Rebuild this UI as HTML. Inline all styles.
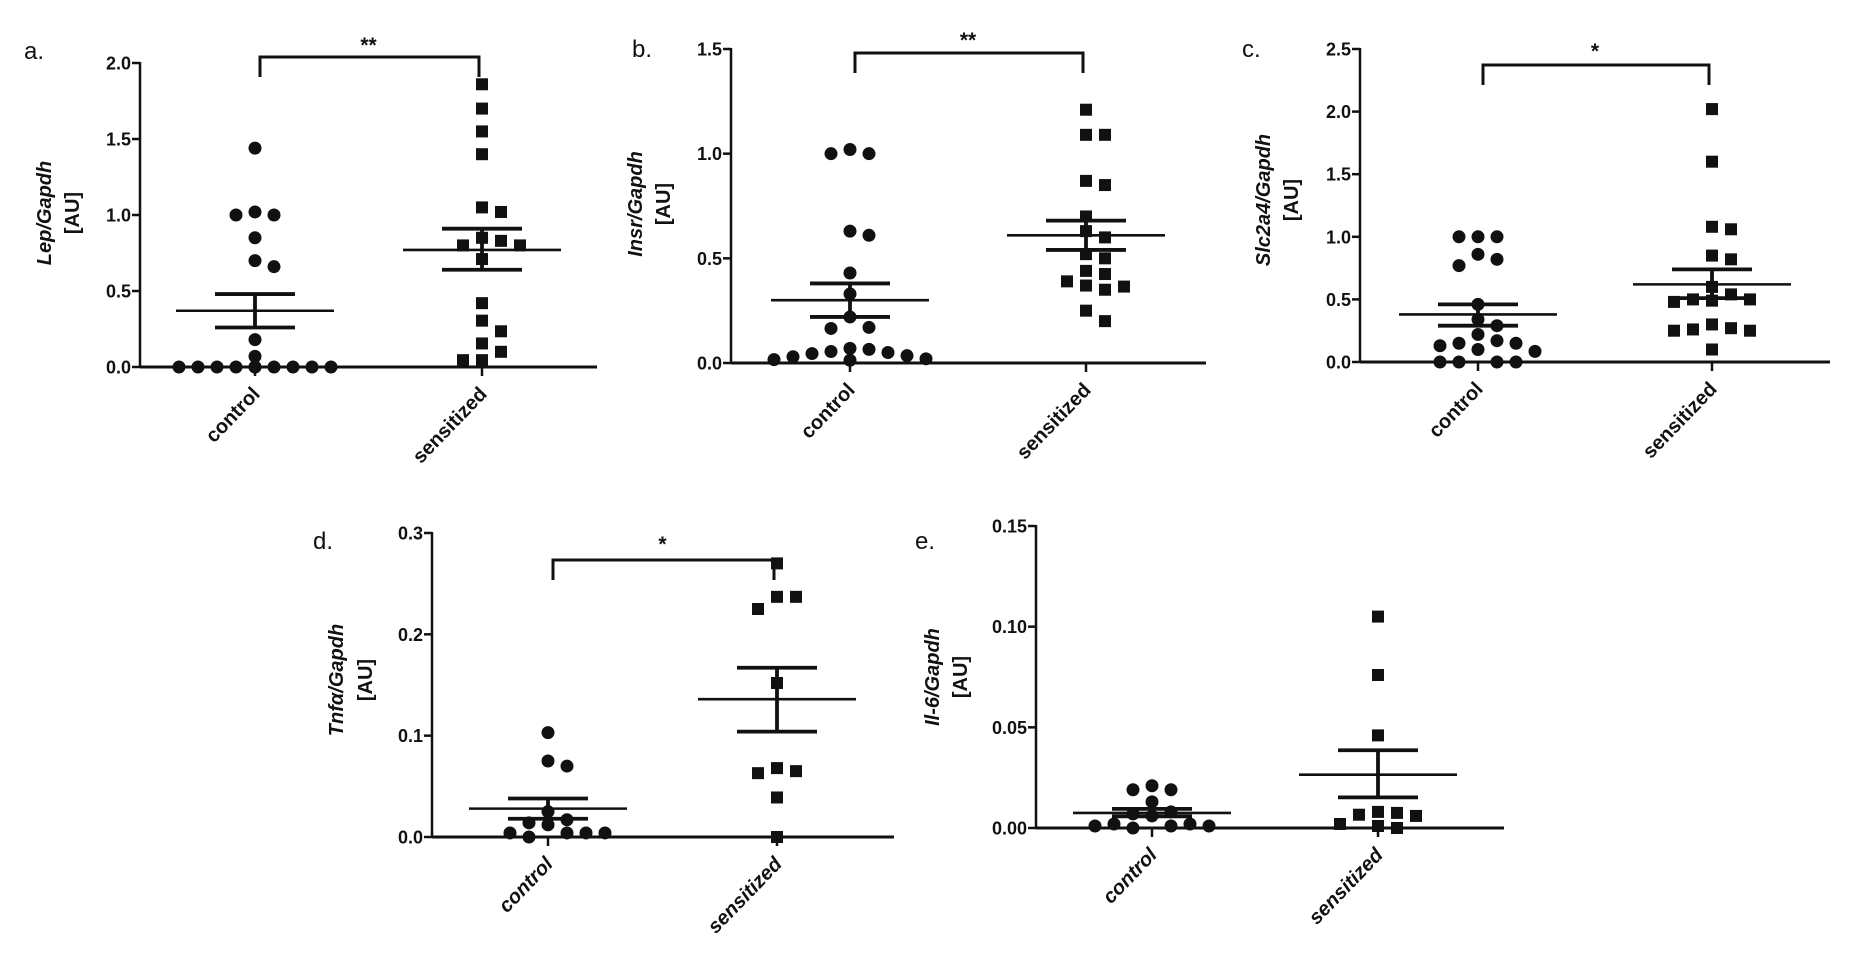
<!DOCTYPE html>
<html><head><meta charset="utf-8"><style>
html,body{margin:0;padding:0;background:#fff;}
svg{display:block;}
text{font-family:"Liberation Sans",Arial,sans-serif;font-weight:bold;fill:#111;}
</style></head><body>
<svg id="fig" width="1866" height="974" viewBox="0 0 1866 974" xmlns="http://www.w3.org/2000/svg"></svg>
<script>
// ---- data ----
const categories = ["control", "sensitized"];
const aControl = [1.44,1.02,1.0,1.0,0.85,0.70,0.66,0.18,0.07,0,0,0,0,0,0,0,0,0,0];
const aSens = [1.86,1.70,1.55,1.40,1.05,1.02,0.85,0.83,0.80,0.80,0.71,0.42,0.305,0.235,0.155,0.10,0.045,0.045];
const aStats = [[0.37,0.48,0.26],[0.77,0.91,0.64]];
const bControl = [1.02,1.0,1.0,0.63,0.61,0.43,0.33,0.22,0.17,0.165,0.07,0.065,0.055,0.05,0.045,0.035,0.03,0.02,0.016,0.013];
const bSens = [1.21,1.09,1.09,0.87,0.85,0.70,0.63,0.60,0.52,0.50,0.44,0.425,0.39,0.37,0.365,0.35,0.25,0.20];
const bStats = [[0.30,0.38,0.22],[0.61,0.68,0.54]];
const cControl = [1.0,1.0,1.0,0.86,0.82,0.77,0.46,0.34,0.29,0.22,0.17,0.15,0.15,0.13,0.10,0.085,0,0,0,0];
const cSens = [2.02,1.60,1.08,1.06,0.85,0.82,0.60,0.54,0.50,0.50,0.49,0.48,0.30,0.27,0.26,0.25,0.25,0.10];
const cStats = [[0.38,0.46,0.29],[0.62,0.74,0.51]];
const dControl = [0.103,0.075,0.070,0.025,0.017,0.014,0.012,0.004,0.004,0.004,0.004,0.0];
const dSens = [0.27,0.237,0.237,0.225,0.152,0.068,0.065,0.063,0.039,0.0];
const dStats = [[0.028,0.038,0.018],[0.136,0.167,0.104]];
const eControl = [0.021,0.019,0.019,0.013,0.008,0.007,0.006,0.002,0.002,0.001,0.001,0.001,0.0];
const eSens = [0.105,0.076,0.046,0.008,0.0075,0.0066,0.006,0.002,0.001,0.0];
const eStats = [[0.0075,0.0095,0.0058],[0.0265,0.0386,0.0152]];
const aTicks = ["0.0","0.5","1.0","1.5","2.0"];
const bTicks = ["0.0","0.5","1.0","1.5"];
const cTicks = ["0.0","0.5","1.0","1.5","2.0","2.5"];
const dTicks = ["0.0","0.1","0.2","0.3"];
const eTicks = ["0.00","0.05","0.10","0.15"];

const NS="http://www.w3.org/2000/svg";
const svg=document.getElementById('fig');
function mk(tag,attrs,parent){const e=document.createElementNS(NS,tag);for(const k in attrs)e.setAttribute(k,attrs[k]);(parent||svg).appendChild(e);return e;}

function panel(o){
  const g=mk('g',{});
  
  
  const y=v=>o.y0+(o.y1-o.y0)*(v-o.vmin)/(o.vmax-o.vmin);
  const ya=mk('line',{x1:o.ax,y1:o.y1-1,x2:o.ax,y2:o.y0,stroke:'#111','stroke-width':2.5},g);
  
  
  const xa=mk('line',{x1:o.ax,y1:o.y0,x2:o.axEnd,y2:o.y0,stroke:'#111','stroke-width':3},g);
  
  
  o.ticks.forEach(t=>{
    const v=parseFloat(t),yy=y(v);
    mk('line',{x1:o.ax-8,y1:yy,x2:o.ax,y2:yy,stroke:'#111','stroke-width':2.5},g);
    const tx=mk('text',{x:o.ax-9,y:yy+6.5,'text-anchor':'end','font-size':18},g);
    tx.textContent=t;
    
    
  });
  const yt=mk('text',{transform:`translate(${o.ytx},${o.yty}) rotate(-90)`,'text-anchor':'middle','font-size':20},g);
  
  
  const it=mk('tspan',{'font-style':'italic'},yt);it.textContent=o.gene+'/Gapdh';
  const au=mk('text',{transform:`translate(${o.aux},${o.yty}) rotate(-90)`,'text-anchor':'middle','font-size':20},g);
  au.textContent='[AU]';
  
  
  const pl=mk('text',{x:o.lx,y:o.ly,'font-size':24,style:'font-weight:normal'},g);
  pl.textContent=o.id+'.';
  
  
  const series=[o.ctrl,o.sens],cx=[o.cx0,o.cx1];
  series.forEach((vals,gi)=>{
    const x=cx[gi];
    mk('line',{x1:x,y1:o.y0,x2:x,y2:o.y0+9,stroke:'#111','stroke-width':2.5},g);
    const lbl=mk('text',{transform:`translate(${x+6},${o.y0+28}) rotate(-46)`,'text-anchor':'end','font-size':20,'font-style':o.italCat?'italic':'normal'},g);
    lbl.textContent=categories[gi];
    
    
    const placed=[];
    vals.forEach(v=>{
      const yy=y(v);let off=0;
      const steps=[0,19,-19,38,-38,57,-57,76,-76];
      for(const s of steps){if(!placed.some(p=>Math.hypot(p[0]-(x+s),p[1]-yy)<13)){off=s;break;}}
      placed.push([x+off,yy]);
      let m;
      if(gi===0){m=mk('circle',{cx:x+off,cy:yy,r:6.5,fill:'#111'},g);}
      else{m=mk('rect',{x:x+off-6,y:yy-6,width:12,height:12,fill:'#111'},g);}
      
      
    });
    const st=o.stats[gi];
    const ml=mk('line',{x1:x-79,y1:y(st[0]),x2:x+79,y2:y(st[0]),stroke:'#111','stroke-width':2.6},g);
    
    
    const eb=mk('path',{d:`M${x-40},${y(st[1])}H${x+40}M${x},${y(st[1])}V${y(st[2])}M${x-40},${y(st[2])}H${x+40}`,stroke:'#111','stroke-width':3.8,fill:'none'},g);
    
    
  });
  if(o.sig){
    const br=mk('path',{d:`M${o.cx0+5},${o.by+20}V${o.by}H${o.cx1-3}V${o.by+20}`,stroke:'#111','stroke-width':3,fill:'none'},g);
    
    
    const s=mk('text',{x:(o.cx0+o.cx1)/2,y:o.sy,'text-anchor':'middle','font-size':21},g);
    s.textContent=o.sig;
    
    
  }
}
panel({id:'a',gene:'Lep',ax:140,axEnd:597,y0:367,y1:63,vmin:0,vmax:2.0,ticks:aTicks,ctrl:aControl,sens:aSens,stats:aStats,cx0:255,cx1:482,by:57,sy:52,sig:'**',lx:24,ly:59,ytx:51,aux:79,yty:213});
panel({id:'b',gene:'Insr',ax:731,axEnd:1206,y0:363,y1:49,vmin:0,vmax:1.5,ticks:bTicks,ctrl:bControl,sens:bSens,stats:bStats,cx0:850,cx1:1086,by:53,sy:47,sig:'**',lx:632,ly:57,ytx:642,aux:670,yty:204});
panel({id:'c',gene:'Slc2a4',ax:1360,axEnd:1830,y0:362,y1:49,vmin:0,vmax:2.5,ticks:cTicks,ctrl:cControl,sens:cSens,stats:cStats,cx0:1478,cx1:1712,by:65,sy:58,sig:'*',lx:1242,ly:57,ytx:1270,aux:1298,yty:200});
panel({id:'d',gene:'Tnf\u03b1',ax:432,axEnd:894,y0:837,y1:533,vmin:0,vmax:0.3,ticks:dTicks,ctrl:dControl,sens:dSens,stats:dStats,cx0:548,cx1:777,by:560,sy:551,sig:'*',lx:313,ly:549,ytx:343,aux:372,yty:680,italCat:true});
panel({id:'e',gene:'Il-6',ax:1036,axEnd:1504,y0:828,y1:526,vmin:0,vmax:0.15,ticks:eTicks,ctrl:eControl,sens:eSens,stats:eStats,cx0:1152,cx1:1378,lx:915,ly:549,ytx:939,aux:967,yty:677,italCat:true});
</script>
</body></html>
